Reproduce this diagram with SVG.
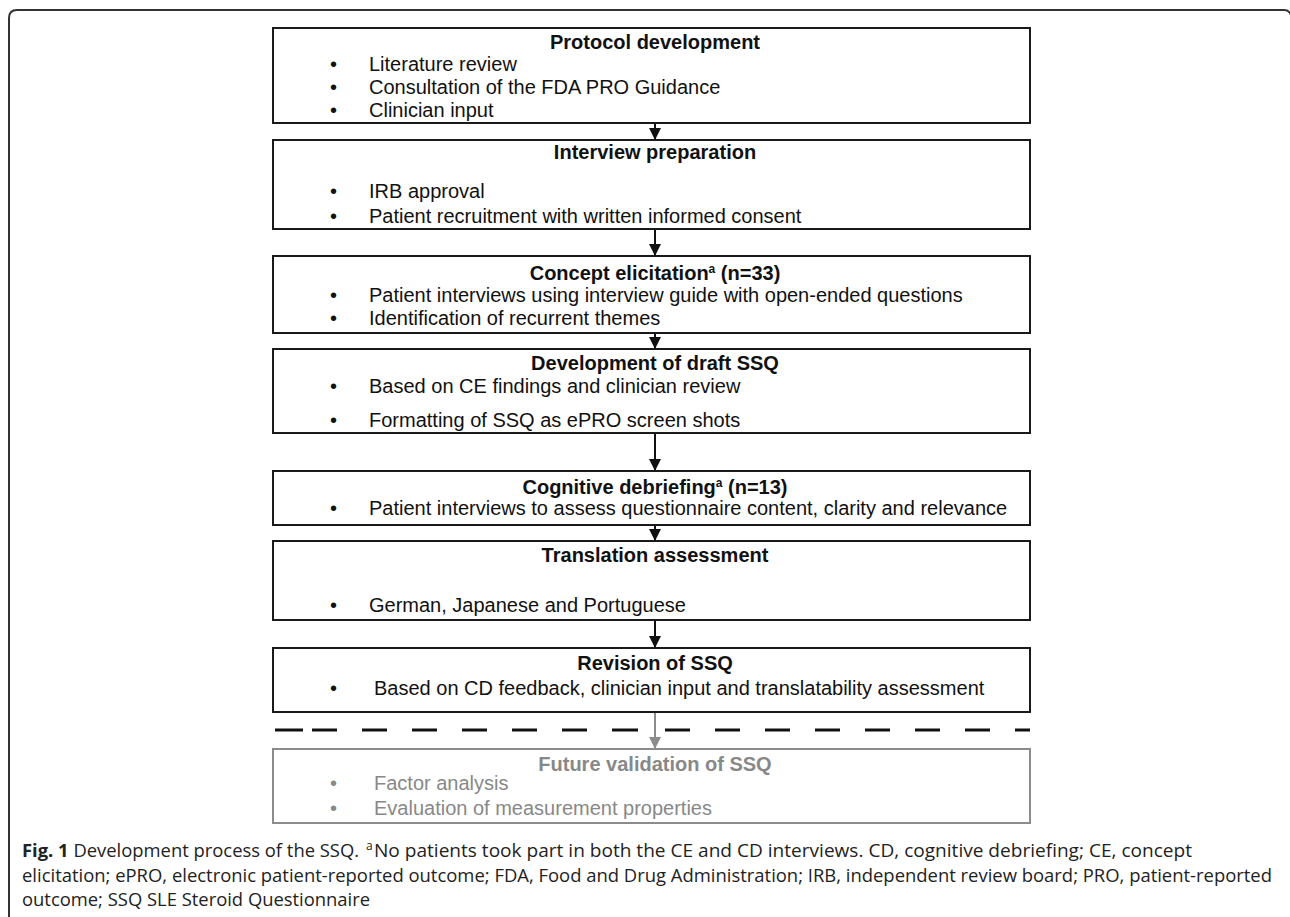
<svg xmlns="http://www.w3.org/2000/svg" width="1290" height="917" viewBox="0 0 1290 917">
<defs>
<style>
.box{fill:#fff;stroke:#1a1a1a;stroke-width:2}
.gbox{fill:#fff;stroke:#8c8c8c;stroke-width:2}
.t{font-family:"Liberation Sans",Arial,sans-serif;font-size:20px;fill:#111}
.tt{font-family:"Liberation Sans",Arial,sans-serif;font-size:20px;font-weight:bold;fill:#111;text-anchor:middle}
.g{fill:#888}
.sup{font-size:12px}
.cap{font-family:"Open Sans",sans-serif;font-size:18.4px;fill:#222}
.capsup{font-family:"Open Sans",sans-serif;font-size:12px;fill:#222}
.conn{stroke:#111;stroke-width:2;fill:none}
</style>
<marker id="ah" viewBox="0 0 12 16" refX="12" refY="8" markerWidth="12" markerHeight="16" markerUnits="userSpaceOnUse" orient="auto">
<path d="M0,2 L12,8 L0,14 Z" fill="#111"/>
</marker>
<marker id="ahg" viewBox="0 0 12 16" refX="12" refY="8" markerWidth="12" markerHeight="16" markerUnits="userSpaceOnUse" orient="auto">
<path d="M0,2 L12,8 L0,14 Z" fill="#8c8c8c"/>
</marker>
</defs>
<rect width="1290" height="917" fill="#fff"/>
<path d="M9,917 L9,18 Q9,10 17,10 L1284,10 Q1289,10 1291,15" fill="none" stroke="#333" stroke-width="2"/>

<g id="connectors">
<line class="conn" x1="655" y1="123" x2="655" y2="140" marker-end="url(#ah)"/>
<line class="conn" x1="655" y1="229" x2="655" y2="256" marker-end="url(#ah)"/>
<line class="conn" x1="655" y1="333" x2="655" y2="349" marker-end="url(#ah)"/>
<line class="conn" x1="655" y1="433" x2="655" y2="471" marker-end="url(#ah)"/>
<line class="conn" x1="655" y1="525" x2="655" y2="541" marker-end="url(#ah)"/>
<line class="conn" x1="655" y1="620" x2="655" y2="648" marker-end="url(#ah)"/>
<path d="M275,730 H303 M312,730 H337 M362,730 H387 M412,730 H437 M462,730 H487 M512,730 H537 M562,730 H587 M612,730 H638 M665,730 H690 M715,730 H740 M765,730 H790 M815,730 H840 M865,730 H890 M915,730 H940 M965,730 H990 M1015,730 H1030" stroke="#111" stroke-width="3" fill="none"/>
<line x1="655" y1="712" x2="655" y2="749" stroke="#8c8c8c" stroke-width="2" marker-end="url(#ahg)"/>
</g>

<g id="n1">
<rect class="box" x="273" y="28" width="757" height="95"/>
<text class="tt" x="655" y="49">Protocol development</text>
<text class="t" x="330" y="71">•</text><text class="t" x="369" y="71">Literature review</text>
<text class="t" x="330" y="94">•</text><text class="t" x="369" y="94">Consultation of the FDA PRO Guidance</text>
<text class="t" x="330" y="117">•</text><text class="t" x="369" y="117">Clinician input</text>
</g>

<g id="n2">
<rect class="box" x="273" y="140" width="757" height="89"/>
<text class="tt" x="655" y="159">Interview preparation</text>
<text class="t" x="330" y="198">•</text><text class="t" x="369" y="198">IRB approval</text>
<text class="t" x="330" y="223">•</text><text class="t" x="369" y="223">Patient recruitment with written informed consent</text>
</g>

<g id="n3">
<rect class="box" x="273" y="256" width="757" height="77"/>
<text class="tt" x="655" y="280">Concept elicitation<tspan class="sup" dy="-7">a</tspan><tspan dy="7"> (n=33)</tspan></text>
<text class="t" x="330" y="302">•</text><text class="t" x="369" y="302">Patient interviews using interview guide with open-ended questions</text>
<text class="t" x="330" y="325">•</text><text class="t" x="369" y="325">Identification of recurrent themes</text>
</g>

<g id="n4">
<rect class="box" x="273" y="349" width="757" height="84"/>
<text class="tt" x="655" y="370">Development of draft SSQ</text>
<text class="t" x="330" y="393">•</text><text class="t" x="369" y="393">Based on CE findings and clinician review</text>
<text class="t" x="330" y="427">•</text><text class="t" x="369" y="427">Formatting of SSQ as ePRO screen shots</text>
</g>

<g id="n5">
<rect class="box" x="273" y="471" width="757" height="54"/>
<text class="tt" x="655" y="494">Cognitive debriefing<tspan class="sup" dy="-7">a</tspan><tspan dy="7"> (n=13)</tspan></text>
<text class="t" x="330" y="515">•</text><text class="t" x="369" y="515">Patient interviews to assess questionnaire content, clarity and relevance</text>
</g>

<g id="n6">
<rect class="box" x="273" y="541" width="757" height="79"/>
<text class="tt" x="655" y="562">Translation assessment</text>
<text class="t" x="330" y="612">•</text><text class="t" x="369" y="612">German, Japanese and Portuguese</text>
</g>

<g id="n7">
<rect class="box" x="273" y="648" width="757" height="64"/>
<text class="tt" x="655" y="670">Revision of SSQ</text>
<text class="t" x="330" y="695">•</text><text class="t" x="374" y="695">Based on CD feedback, clinician input and translatability assessment</text>
</g>

<g id="n8">
<rect class="gbox" x="273" y="749" width="757" height="74"/>
<text class="tt g" x="655" y="771">Future validation of SSQ</text>
<text class="t g" x="330" y="790">•</text><text class="t g" x="374" y="790">Factor analysis</text>
<text class="t g" x="330" y="815">•</text><text class="t g" x="374" y="815">Evaluation of measurement properties</text>
</g>

<g id="caption">
<text class="cap" x="22" y="857"><tspan font-weight="bold">Fig. 1</tspan> Development process of the SSQ.</text>
<text class="capsup" x="366" y="850">a</text>
<text class="cap" x="374" y="857" textLength="818" lengthAdjust="spacingAndGlyphs">No patients took part in both the CE and CD interviews. CD, cognitive debriefing; CE, concept</text>
<text class="cap" x="22" y="882" textLength="1250" lengthAdjust="spacingAndGlyphs">elicitation; ePRO, electronic patient-reported outcome; FDA, Food and Drug Administration; IRB, independent review board; PRO, patient-reported</text>
<text class="cap" x="22" y="906">outcome; SSQ SLE Steroid Questionnaire</text>
</g>
</svg>
